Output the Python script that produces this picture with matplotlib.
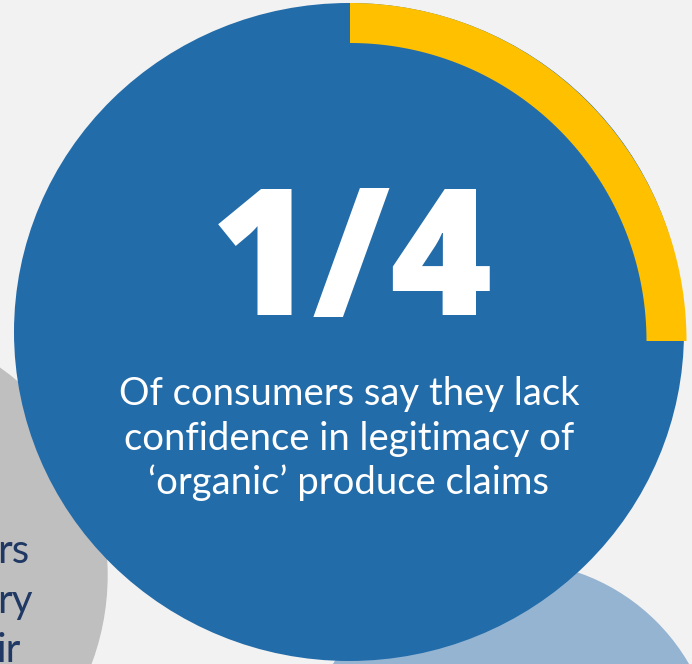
import numpy as np
import matplotlib.pyplot as plt
from matplotlib.patches import Ellipse, Circle, Polygon

# Dato principal
fraction = 0.25
big_label = "1/4"
caption_lines = ["Of consumers say they lack",
                 "confidence in legitimacy of",
                 "\u2018organic\u2019 produce claims"]
side_words = ["rs", "ry", "ir"]

# Colores
bg = "#f2f2f2"
blue = "#236caa"
yellow = "#ffc000"
grey = "#bfbfbf"
light_blue = "#95b4d1"
navy = "#203864"

W, H = 692, 664
fig = plt.figure(figsize=(W / 100, H / 100), dpi=100, facecolor=bg)
ax = fig.add_axes([0, 0, 1, 1])
ax.set_xlim(0, W)
ax.set_ylim(H, 0)
ax.set_aspect("equal")
ax.axis("off")
ax.set_facecolor(bg)

# Círculos de fondo
ax.add_patch(Circle((-146, 575), 253, color=grey, zorder=1))
ax.add_patch(Circle((511, 767), 205, color=light_blue, zorder=1))

# Círculo principal
ax.add_patch(Ellipse((349, 332), 670, 658, color=blue, lw=0, zorder=2))

# Arco amarillo (fracción)
cx, cy = 350, 341
rx, ry, band = 336.5, 338, 40
th = np.linspace(-np.pi / 2, -np.pi / 2 + 2 * np.pi * fraction, 200)
outer = np.column_stack([cx + rx * np.cos(th), cy + ry * np.sin(th)])
inner = np.column_stack([cx + (rx - band) * np.cos(th[::-1]), cy + (ry - band) * np.sin(th[::-1])])
ax.add_patch(Polygon(np.vstack([outer, inner]), closed=True, color=yellow, lw=0, zorder=3))

# Textos
ax.text(352, 315, big_label, color="white", fontsize=126, fontweight="heavy",
        family="Open Sans", ha="center", va="baseline", zorder=4)
for line, y in zip(caption_lines, [405, 450, 494]):
    ax.text(349, y, line, color="white", fontsize=27.5, family="Lato",
            ha="center", va="baseline", zorder=4)

for word, y in zip(side_words, [563, 613, 662]):
    ax.text(-3, y, word, color=navy, fontsize=29, family="Lato",
            ha="left", va="baseline", zorder=1.5)

fig.savefig("out.png", dpi=100, facecolor=bg)
